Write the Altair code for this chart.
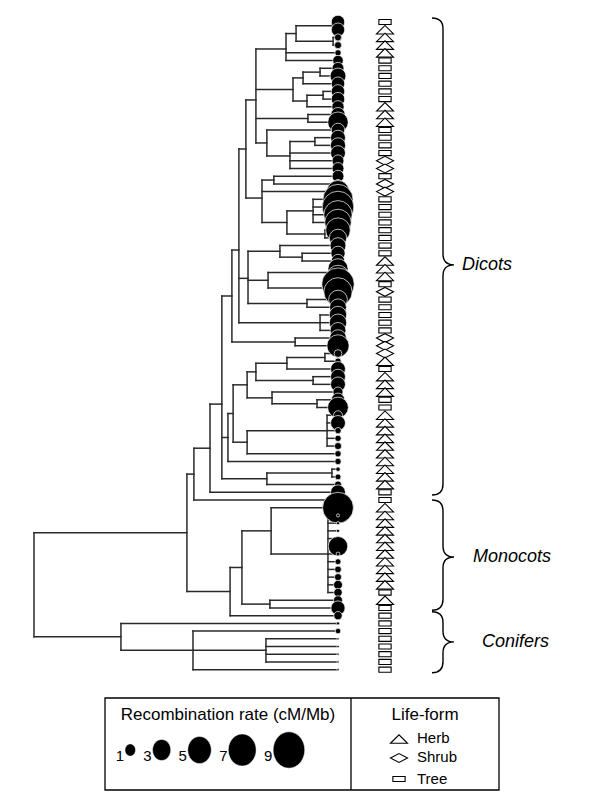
import math
import altair as alt
import pandas as pd

# ---------------- data ----------------
# recombination rate (cM/Mb) of each tip, top to bottom
RATES = [1.8, 1.8, 0.5, 0.5, 0.4, 1.1, 1.4, 2.5, 1.8, 1.8,
         1.8, 1.5, 2.0, 4.2, 1.8, 2.2, 2.3, 2.2, 1.4, 1.4,
         1.4, 0.8, 5.0, 9.0, 10.0, 8.0, 7.0, 6.0, 3.0, 2.5,
         2.0, 1.8, 4.0, 5.0, 10.5, 8.0, 3.5, 2.8, 3.0, 3.0,
         2.5, 2.8, 4.9, 0.6, 0.4, 2.2, 2.2, 2.2, 1.0, 1.8,
         4.3, 0.8, 2.2, 0.4, 0.4, 0.5, 0.4, 0.4, 0.2, 0.35,
         0.5, 2.2, 0.3, 9.5, 0.1, 0.1, 0.1, 0.2, 3.8, 0.15,
         0.35, 0.45, 0.5, 0.8, 0.7, 0.8, 2.0, 0.7, 0.1, 0.3,
         0.05, 0.05, 0.05, 0.05, 0.05]

# life-form of each tip (H herb, S shrub, T tree)
LIFE_CODES = ("T" "HHHH" "TTTTTT" "HHH" "TTTT" "SS" "T" "SS" "TTTTTTTT" "HHH"
              "T" "S" "TTTTT" "SSS" "H" "T" "HHH" "TT" "HHHHHHHHHH" "TT"
              "HHHHHHHHHHH" "T" "H" "TT"
              "TTTTTTT")
LIFE_NAMES = {"H": "Herb", "S": "Shrub", "T": "Tree"}


def N(depth, *kids):
    return (depth, list(kids))


# tree topology; node depth from root (0) to tips (1)
TREE = N(0.0,
  N(0.503,
    N(0.526,
      N(0.579,
        N(0.618,
          N(0.651,
            N(0.674,
              N(0.697,
                N(0.730,
                  N(0.829, N(0.862, N(0.984, 0, 1), N(0.984, 2, 3)), 4, 5),
                  N(0.852, N(0.885, N(0.941, 6, 7), 8), N(0.898, N(0.951, 9, 10), 11)),
                  N(0.901, 12, 13),
                  N(0.766, 14, N(0.842, N(0.924, 15, 16), 17, 18, 19))),
                N(0.750, N(0.789, 20, 21), 22,
                  N(0.832, N(0.918, 23, 24, 25, 26), N(0.957, 27, 28)))),
              N(0.704, N(0.809, 29, N(0.882, 30, 31)),
                N(0.770, N(0.974, 32, 33), N(0.974, 34, 35)),
                N(0.898, 36, 37)),
              N(0.941, 38, 39, 40)),
            N(0.859, 41, 42)),
          N(0.638,
            N(0.655,
              N(0.701,
                N(0.730, N(0.832, N(0.957, 43, 44), 45), N(0.918, 46, 47)),
                N(0.783, 48, N(0.931, 49, 50))),
              N(0.701, N(0.964, 51, 52, 53, 54, 55), 56)),
            57),
          N(0.766, N(0.980, 58, 59), 60)),
        61),
      62),
    N(0.645,
      N(0.684,
        N(0.780, 63, N(0.967, 64, 65, 66, 67, 68, 69, 70, 71, 72, 73, 74)),
        N(0.776, 75, 76)),
      77)),
  N(0.286,
    78,
    N(0.523, 79, N(0.763, 80, 81, 82, 83), 84)))

GROUPS = ["Dicots", "Monocots", "Conifers"]
BRACE_TOP = [-0.52, 62.0, 76.5]      # in tip-index units
BRACE_BOTTOM = [61.35, 76.3, 84.4]
BRACE_TIP = [31.5, 69.4, 80.4]
LABEL_LEFT = [462, 473, 482]         # page px

LEG_RATES = [1, 3, 5, 7, 9]
LEG_LIFE = ["Herb", "Shrub", "Tree"]

# ---------------- layout ----------------
W, H = 584, 792
DY = 7.71           # px per tip
Y0 = 14             # chart px of first tip
XPX = 304           # px per unit depth
X0 = 26             # chart px of root
XD = [-X0 / XPX, (W - X0) / XPX]
YD = [-Y0 / DY, (H - Y0) / DY]
FONT = "Liberation Sans"


def P(v):
    return v - 8  # page px -> chart px


def X(f):
    return alt.X(f, type="quantitative", scale=alt.Scale(domain=XD), axis=None)


def Y(f):
    return alt.Y(f, type="quantitative", scale=alt.Scale(domain=YD, reverse=True), axis=None)


def XV(d):
    return alt.X(datum=d, type="quantitative", scale=alt.Scale(domain=XD), axis=None)


segs = []


def layout(node):
    if isinstance(node, int):
        return 1.0, float(node)
    d, kids = node
    ys = []
    for k in kids:
        kd, ky = layout(k)
        segs.append(dict(x=d, x2=kd, y=ky, y2=ky))
        ys.append(ky)
    segs.append(dict(x=d, x2=d, y=min(ys), y2=max(ys)))
    return d, sum(ys) / len(ys)


layout(TREE)
seg_df = pd.DataFrame(segs)

tips_df = pd.DataFrame({
    "i": list(range(len(RATES))),
    "d": [1.0] * len(RATES),
    "rate": RATES,
    "life": [LIFE_NAMES[c] for c in LIFE_CODES],
})

TRI = "M-1,0.5 L0,-0.5 L1,0.5 Z"
DIA = "M-1,0 L0,-0.52 L1,0 L0,0.52 Z"
RECT = "M-0.72,-0.3 L0.72,-0.3 L0.72,0.3 L-0.72,0.3 Z"
SHAPE_SCALE = alt.Scale(domain=["Herb", "Shrub", "Tree"], range=[TRI, DIA, RECT])
SIZE_SCALE = alt.Scale(domain=[0, 10], range=[0, 1000], zero=True)
LIFE_D = (385 - 34) / XPX

tree = alt.Chart(seg_df).mark_rule(color="#2a2a2a", strokeWidth=1.5, strokeCap="square").encode(
    x=X("x"), x2="x2", y=Y("y"), y2="y2")

circles = alt.Chart(tips_df).mark_circle(fill="black", stroke="white", strokeWidth=0.7, opacity=1).encode(
    x=X("d"), y=Y("i"), size=alt.Size("rate:Q", scale=SIZE_SCALE, legend=None))

lifeforms = alt.Chart(tips_df).mark_point(filled=True, fill="white", stroke="black", strokeWidth=1.1,
                                          size=289, opacity=1).encode(
    x=XV(LIFE_D), y=Y("i"), shape=alt.Shape("life:N", scale=SHAPE_SCALE, legend=None))


def brace_path(up, down, r=11.0):
    s = max(up, down)
    pts = [(-r, -up), (0, -up), (0, -up + r), (0, -r), (0, 0), (r, 0), (0, 0), (0, r),
           (0, down - r), (0, down), (-r, down)]
    p = [(a / s, b / s) for a, b in pts]
    f = lambda q: f"{q[0]:.4f},{q[1]:.4f}"
    path = (f"M{f(p[0])} Q{f(p[1])} {f(p[2])} L{f(p[3])} Q{f(p[4])} {f(p[5])} "
            f"Q{f(p[6])} {f(p[7])} L{f(p[8])} Q{f(p[9])} {f(p[10])}")
    return path, (2 * s) ** 2


brace_rows = []
for g, t, b, m, lx in zip(GROUPS, BRACE_TOP, BRACE_BOTTOM, BRACE_TIP, LABEL_LEFT):
    path, sz = brace_path((m - t) * DY, (b - m) * DY)
    brace_rows.append(dict(group=g, tip=m, path=path, sz=sz, lx=(lx - 34) / XPX))
brace_df = pd.DataFrame(brace_rows)

BRACE_D = (443 - 34) / XPX

braces = alt.Chart(brace_df).mark_point(filled=False, stroke="black", strokeWidth=1.4, opacity=1).encode(
    x=XV(BRACE_D), y=Y("tip"),
    shape=alt.Shape("path:N", scale=None, legend=None),
    size=alt.Size("sz:Q", scale=None, legend=None))

group_labels = alt.Chart(brace_df).mark_text(align="left", baseline="middle", fontStyle="italic",
                                             fontSize=18, font=FONT, color="black").encode(
    x=X("lx"), y=Y("tip"), text="group:N")

# ---------------- legend ----------------
BOX_L, BOX_R, BOX_T, BOX_B, BOX_MID = 105, 499, 698, 790, 351
box = alt.Chart(pd.DataFrame({"a": [0]})).mark_rect(fill=None, stroke="black", strokeWidth=1.3).encode(
    x=alt.value(P(BOX_L)), x2=alt.value(P(BOX_R)), y=alt.value(P(BOX_T)), y2=alt.value(P(BOX_B)))
divider = alt.Chart(pd.DataFrame({"a": [0]})).mark_rule(color="black", strokeWidth=1.3).encode(
    x=alt.value(P(BOX_MID)), y=alt.value(P(BOX_T)), y2=alt.value(P(BOX_B)))

titles_df = pd.DataFrame({
    "t": ["Recombination rate (cM/Mb)", "Life-form"],
    "px": [P((BOX_L + BOX_MID) / 2), P((BOX_MID + BOX_R) / 2)],
})
titles = alt.Chart(titles_df).mark_text(fontSize=17, font=FONT, baseline="alphabetic", align="center").encode(
    x=alt.X("px:Q", scale=None, axis=None), y=alt.value(P(720)), text="t:N")

ELL_K, ELL_AX = 1.21, 0.87
rx, ry = ELL_K * ELL_AX, ELL_K
kx, ky = 0.5523 * rx, 0.5523 * ry
ELLIPSE = (f"M0,{-ry:.4f} C{kx:.4f},{-ry:.4f} {rx:.4f},{-ky:.4f} {rx:.4f},0 "
           f"C{rx:.4f},{ky:.4f} {kx:.4f},{ry:.4f} 0,{ry:.4f} "
           f"C{-kx:.4f},{ry:.4f} {-rx:.4f},{ky:.4f} {-rx:.4f},0 "
           f"C{-rx:.4f},{-ky:.4f} {-kx:.4f},{-ry:.4f} 0,{-ry:.4f} Z")

lab_x, ell_x = [], []
cur = 120
for r in LEG_RATES:
    hw = rx * math.sqrt(100 * r) / 2
    lab_x.append(P(cur))
    c = cur + 5 + hw
    ell_x.append(P(c))
    cur = c + hw + 12
leg_rate_df = pd.DataFrame({"rate": LEG_RATES, "lx": lab_x, "ex": ell_x,
                            "lab": [str(r) for r in LEG_RATES]})

leg_nums = alt.Chart(leg_rate_df).mark_text(fontSize=15, font=FONT, align="center", baseline="alphabetic").encode(
    x=alt.X("lx:Q", scale=None, axis=None), y=alt.value(P(761)), text="lab:N")
leg_ell = alt.Chart(leg_rate_df).mark_point(shape=ELLIPSE, filled=True, fill="black", stroke="white",
                                            strokeWidth=0.5, opacity=1).encode(
    x=alt.X("ex:Q", scale=None, axis=None), y=alt.value(P(750)),
    size=alt.Size("rate:Q", scale=SIZE_SCALE, legend=None))

leg_life_df = pd.DataFrame({"life": LEG_LIFE, "py": [P(739), P(758), P(779)],
                            "ty": [P(743), P(762), P(784)]})
leg_icons = alt.Chart(leg_life_df).mark_point(filled=True, fill="white", stroke="black", strokeWidth=1.1,
                                              size=289, opacity=1).encode(
    x=alt.value(P(399)), y=alt.Y("py:Q", scale=None, axis=None),
    shape=alt.Shape("life:N", scale=SHAPE_SCALE, legend=None))
leg_text = alt.Chart(leg_life_df).mark_text(fontSize=15, font=FONT, align="left", baseline="alphabetic").encode(
    x=alt.value(P(417)), y=alt.Y("ty:Q", scale=None, axis=None), text="life:N")

chart = alt.layer(
    tree, circles, lifeforms, braces, group_labels,
    box, divider, titles, leg_nums, leg_ell, leg_icons, leg_text
).resolve_scale(
    x="independent", y="independent", size="independent", shape="independent"
).properties(
    width=W, height=H, autosize=alt.AutoSizeParams(type="none"), padding=0
).configure_view(stroke=None)

chart.save("out.html", embed_options={"renderer": "svg", "actions": False})
